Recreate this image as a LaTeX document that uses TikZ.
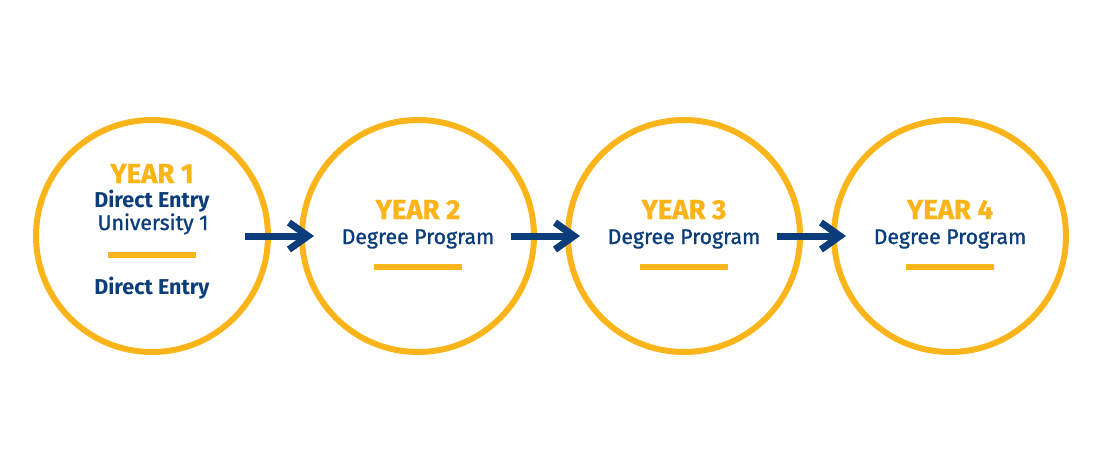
\documentclass[tikz,border=0pt]{standalone}
\usepackage{fontspec}
\setmainfont{Fira Sans}
\newfontfamily\medfont[FakeBold=1.2]{Fira Sans}
\newfontfamily\heavyfont[FakeBold=1.0]{Fira Sans Bold}
\usetikzlibrary{arrows.meta}
\definecolor{gold}{HTML}{FBB41A}
\definecolor{navy}{HTML}{0A3D79}
\tikzset{
  yearring/.style={circle, draw=gold, line width=6pt, minimum size=232pt, inner sep=0pt},
  yeartitle/.style={anchor=base, inner sep=0pt, text=gold, font=\heavyfont\fontsize{27.5}{30}\selectfont},
  boldline/.style={anchor=base, inner sep=0pt, text=navy, font=\bfseries\fontsize{21.5}{25}\selectfont},
  plainline/.style={anchor=base, inner sep=0pt, text=navy, font=\medfont\fontsize{21.2}{25}\selectfont},
  goldbar/.style={draw=gold, line width=6pt},
  flowarrow/.style={draw=navy, line width=7pt, shorten <=93pt, shorten >=104pt,
    -{Straight Barb[length=19pt, width=27pt, line width=7pt]}}
}
\begin{document}
\begin{tikzpicture}[x=1pt, y=-1pt]
			%%%%% START %%%%%
			\useasboundingbox (0, 0) rectangle (1100, 471);
			
			\node[yearring] (c1) at (152, 236) {};
			\node[yearring] (c2) at (418, 236) {};
			\node[yearring] (c3) at (684, 236) {};
			\node[yearring] (c4) at (950, 236) {};
			
			\node[yeartitle] (y1) at (152, 183) {YEAR 1};
			\node[boldline] (y1a) at (152, 207) {Direct Entry};
			\node[plainline] (y1b) at (153, 230) {University 1};
			\draw[goldbar] (108, 255) -- (196, 255);
			\node[boldline] (y1c) at (152, 294) {Direct Entry};
			
			\node[yeartitle] (y2) at (418, 219) {YEAR 2};
			\node[plainline] (y2a) at (418, 244) {Degree Program};
			\draw[goldbar] (374, 267) -- (462, 267);
			
			\node[yeartitle] (y3) at (684, 219) {YEAR 3};
			\node[plainline] (y3a) at (684, 244) {Degree Program};
			\draw[goldbar] (640, 267) -- (728, 267);
			
			\node[yeartitle] (y4) at (950, 219) {YEAR 4};
			\node[plainline] (y4a) at (950, 244) {Degree Program};
			\draw[goldbar] (906, 267) -- (994, 267);
			
			\draw[flowarrow] (c1.center) -- (c2.center);
			\draw[flowarrow] (c2.center) -- (c3.center);
			\draw[flowarrow] (c3.center) -- (c4.center);
			%%%%% END %%%%%
\end{tikzpicture}
\end{document}
